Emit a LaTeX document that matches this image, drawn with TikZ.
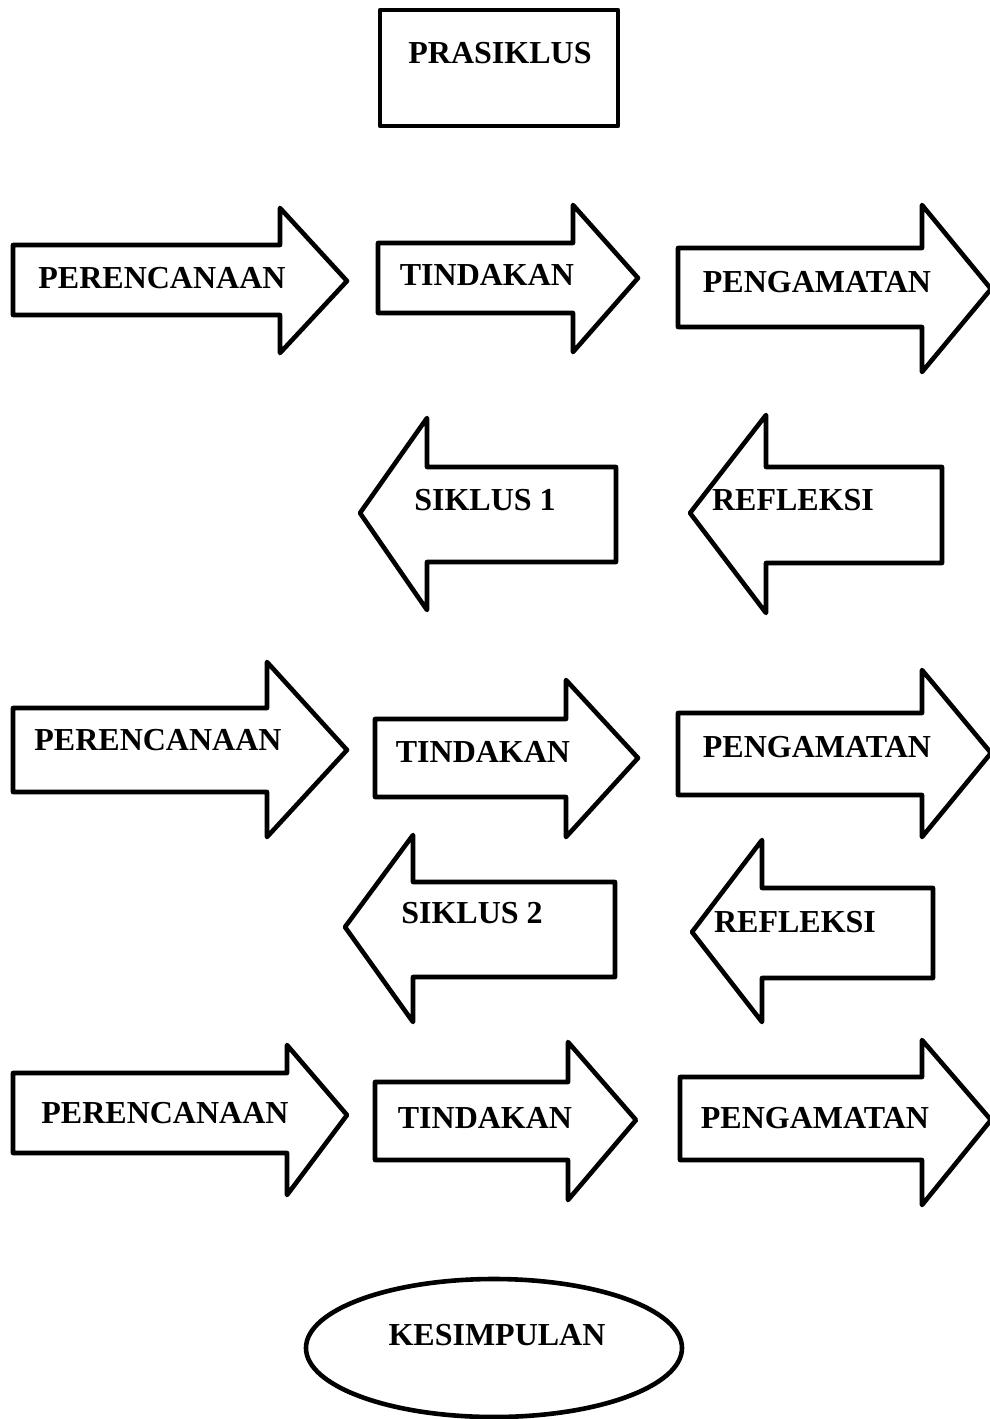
\documentclass[tikz,border=0pt]{standalone}
\usepackage{fontspec}
\setmainfont{Liberation Serif}
\begin{document}
\begin{tikzpicture}[x=1pt,y=-1pt,
  shp/.style={draw=black,line width=4.6pt,line join=round,fill=white},
  lbl/.style={font=\fontsize{32}{36}\selectfont\bfseries,inner sep=0pt}]
\useasboundingbox (0,0) rectangle (990,1419);
\fill[white] (0,0) rectangle (990,1419);
% right arrow: xl, xb, ytop, ybot, htop, hbot, tipx, tipy
\newcommand\rarr[8]{\draw[shp] (#1,#3) -- (#2,#3) -- (#2,#5) -- (#7,#8) -- (#2,#6) -- (#2,#4) -- (#1,#4) -- cycle;}
% left arrow: xr, xb, ytop, ybot, htop, hbot, tipx, tipy
\newcommand\larr[8]{\draw[shp] (#1,#3) -- (#2,#3) -- (#2,#5) -- (#7,#8) -- (#2,#6) -- (#2,#4) -- (#1,#4) -- cycle;}
% PRASIKLUS
\draw[shp] (380,10) rectangle (618,126);
\node[lbl] (pra) at (500,53) {PRASIKLUS};
% row 1
\rarr{13}{280}{245}{315}{208}{353}{347}{281}
\rarr{378}{573}{243}{313}{205}{352}{638}{278}
\rarr{678}{922}{248}{327}{205}{372}{991}{289}
\node[lbl] (per1) at (162,278) {PERENCANAAN};
\node[lbl] (tin1) at (487,275) {TINDAKAN};
\node[lbl] (pen1) at (817,282) {PENGAMATAN};
\larr{616}{427}{467}{562}{418}{610}{360}{513}
\larr{942}{766}{467}{563}{415}{613}{690}{513}
\node[lbl] (sik1) at (485,500) {SIKLUS 1};
\node[lbl] (ref1) at (793,500) {REFLEKSI};
% row 2
\rarr{13}{267}{708}{792}{662}{837}{347}{750}
\rarr{375}{566}{719}{797}{680}{837}{638}{758}
\rarr{678}{922}{713}{795}{670}{837}{991}{753}
\node[lbl] (per2) at (158,740) {PERENCANAAN};
\node[lbl] (tin2) at (483,752) {TINDAKAN};
\node[lbl] (pen2) at (817,747) {PENGAMATAN};
\larr{615}{413}{882}{977}{835}{1022}{345}{927}
\larr{933}{762}{888}{978}{840}{1022}{692}{932}
\node[lbl] (sik2) at (472,913) {SIKLUS 2};
\node[lbl] (ref2) at (795,922) {REFLEKSI};
% row 3
\rarr{13}{287}{1073}{1153}{1045}{1195}{347}{1115}
\rarr{375}{568}{1082}{1160}{1042}{1200}{636}{1120}
\rarr{680}{922}{1077}{1160}{1040}{1205}{991}{1120}
\node[lbl] (per3) at (165,1113) {PERENCANAAN};
\node[lbl] (tin3) at (485,1118) {TINDAKAN};
\node[lbl] (pen3) at (815,1118) {PENGAMATAN};
% KESIMPULAN
\draw[shp] (494,1348) ellipse [x radius=188,y radius=69];
\node[lbl] (kes) at (497,1335) {KESIMPULAN};
\end{tikzpicture}
\end{document}
